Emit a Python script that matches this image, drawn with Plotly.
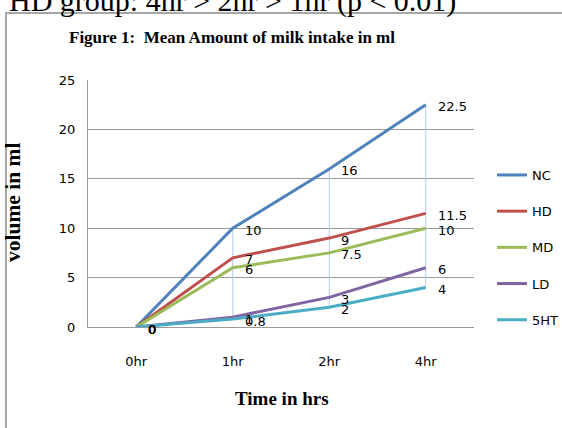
import plotly.graph_objects as go

categories = ["0hr", "1hr", "2hr", "4hr"]
series_names = ["NC", "HD", "MD", "LD", "5HT"]
nc = [0, 10, 16, 22.5]
hd = [0, 7, 9, 11.5]
md = [0, 6, 7.5, 10]
ld = [0, 1, 3, 6]
ht5 = [0, 0.8, 2, 4]
colors = ["#4F81BD", "#C0504D", "#9BBB59", "#8064A2", "#4BACC6"]
y_ticks = [0, 5, 10, 15, 20, 25]

all_series = [nc, hd, md, ld, ht5]

W, H = 562, 428
L, R, T, B = 88, 474, 80, 327  # plot area in pixels


def px_x(p):
    return (p - L) / (R - L)


def px_y(p):
    return (B - p) / (B - T)


TICK_FONT = dict(family="DejaVu Sans", size=13, color="#000000")
SERIF = "Liberation Serif, Times New Roman, serif"

fig = go.Figure()

# high-low lines (max to min per category)
hx, hy = [], []
for i, c in enumerate(categories):
    vals = [s[i] for s in all_series]
    if max(vals) != min(vals):
        hx += [c, c, None]
        hy += [max(vals), min(vals), None]
fig.add_trace(go.Scatter(x=hx, y=hy, mode="lines", line=dict(color="#B4C8EC", width=1),
                         showlegend=False, hoverinfo="skip"))

for name, vals, col in zip(series_names, all_series, colors):
    fig.add_trace(go.Scatter(x=categories, y=vals, mode="lines", name=name,
                             legendgroup=name,
                             line=dict(color=col, width=3)))

annotations = []
for vals in all_series:
    for c, v in zip(categories, vals):
        annotations.append(dict(x=c, y=v, xref="x", yref="y", text=f"{v:g}",
                                showarrow=False, xanchor="left", yanchor="middle",
                                xshift=10, yshift=-2, font=TICK_FONT))

# top clipped text
annotations.append(dict(x=px_x(7), y=px_y(20), xref="paper", yref="paper",
                        text="HD group: 4hr &gt; 2hr &gt; 1hr (p &lt; 0.01)", showarrow=False,
                        xanchor="left", yanchor="bottom",
                        font=dict(family=SERIF, size=30, color="#000000")))
# chart title
annotations.append(dict(x=px_x(232), y=px_y(38), xref="paper", yref="paper",
                        text="<b>Figure 1:\u00a0 Mean Amount of milk intake in ml</b>",
                        showarrow=False, xanchor="center", yanchor="middle",
                        font=dict(family=SERIF, size=17, color="#000000")))
# axis titles
annotations.append(dict(x=px_x(13), y=px_y(203), xref="paper", yref="paper",
                        text="<b>volume in ml</b>", textangle=-90, showarrow=False,
                        xanchor="center", yanchor="middle",
                        font=dict(family=SERIF, size=21.5, color="#000000")))
annotations.append(dict(x=px_x(282), y=px_y(398), xref="paper", yref="paper",
                        text="<b>Time in hrs</b>", showarrow=False,
                        xanchor="center", yanchor="middle",
                        font=dict(family=SERIF, size=19, color="#000000")))

shapes = [dict(type="rect", xref="paper", yref="paper",
               x0=px_x(6), x1=px_x(620), y0=px_y(13), y1=px_y(480),
               line=dict(color="#A6A6A6", width=2), layer="below")]

fig.update_layout(
    width=W, height=H,
    margin=dict(l=L, r=W - R, t=T, b=H - B, pad=0, autoexpand=False),
    paper_bgcolor="white", plot_bgcolor="white",
    showlegend=True,
    legend=dict(x=px_x(492), y=px_y(160), xanchor="left", yanchor="top",
                font=TICK_FONT, tracegroupgap=16.3, bgcolor="rgba(0,0,0,0)"),
    xaxis=dict(type="category", categoryorder="array", categoryarray=categories,
               range=[-0.5, 3.5], showgrid=False, showline=True, linecolor="#9A9A9A",
               linewidth=1, ticks="", tickfont=TICK_FONT, ticklabelstandoff=22,
               zeroline=False, fixedrange=True),
    yaxis=dict(range=[0, 25], tickvals=y_ticks, showgrid=True, gridcolor="#9A9A9A",
               gridwidth=1, showline=True, linecolor="#9A9A9A", linewidth=1,
               ticks="", tickfont=TICK_FONT, ticklabelstandoff=9, zeroline=False),
    annotations=annotations,
    shapes=shapes,
)

fig.write_html("out.html", config={"displayModeBar": False},
               post_script="document.body.style.margin='0';")
